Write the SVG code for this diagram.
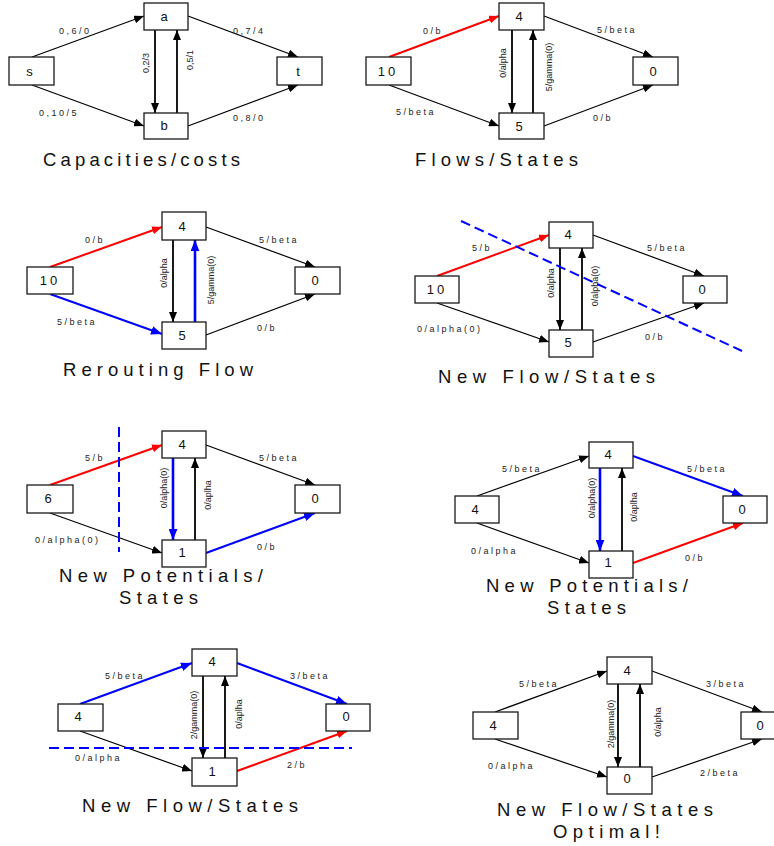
<svg xmlns="http://www.w3.org/2000/svg" width="774" height="846" viewBox="0 0 774 846">
  <style>
    .box { fill: #fff; stroke: #1a1a1a; stroke-width: 1.3; }
    .nt { font-family: "Liberation Sans", Arial, sans-serif; font-size: 13px; fill: #111; text-anchor: middle; }
    .nt2 { letter-spacing: 3px; }
    .el { font-family: "Liberation Sans", Arial, sans-serif; font-size: 9px; fill: #222; letter-spacing: 2.5px; }
    .vl { font-family: "Liberation Sans", Arial, sans-serif; font-size: 9px; fill: #222; text-anchor: middle; }
    .ti { font-family: "Liberation Sans", Arial, sans-serif; font-size: 18.5px; fill: #111; }
    .e { fill: none; stroke: #000; stroke-width: 1.2; marker-end: url(#ah-k); }
    .v { fill: none; stroke: #000; stroke-width: 1.8; marker-end: url(#ah-k); }
    .r { fill: none; stroke: #f00; stroke-width: 2; marker-end: url(#ah-r); }
    .b { fill: none; stroke: #00f; stroke-width: 2; marker-end: url(#ah-b); }
    .vb { fill: none; stroke: #00f; stroke-width: 2.6; marker-end: url(#ah-b); }
    .cut { fill: none; stroke: #00f; stroke-width: 2; stroke-dasharray: 10 5; }
  </style>
  <defs>
    <marker id="ah-k" viewBox="0 0 10 8" refX="10" refY="4" markerWidth="10" markerHeight="8" markerUnits="userSpaceOnUse" orient="auto">
      <path d="M0,0 L10,4 L0,8 z" fill="#000"/>
    </marker>
    <marker id="ah-r" viewBox="0 0 10 8" refX="10" refY="4" markerWidth="10" markerHeight="8" markerUnits="userSpaceOnUse" orient="auto">
      <path d="M0,0 L10,4 L0,8 z" fill="#f00"/>
    </marker>
    <marker id="ah-b" viewBox="0 0 10 8" refX="10" refY="4" markerWidth="11" markerHeight="9" markerUnits="userSpaceOnUse" orient="auto">
      <path d="M0,0 L10,4 L0,8 z" fill="#00f"/>
    </marker>
  </defs>
  <rect width="774" height="846" fill="#fff"/>

  <!-- 1: capacities / costs -->
  <g id="panel1">
    <g id="p1-connectors">
      <path class="e" d="M32,57 L144,16"/>
      <path class="e" d="M32,85 L144,126"/>
      <path class="e" d="M188,16 L298,57"/>
      <path class="e" d="M188,126 L298,85"/>
      <path class="v" d="M155,30 L155,113"/>
      <path class="v" d="M177,113 L177,30"/>
      <text class="el" x="59" y="34">0,6/0</text>
      <text class="el" x="233" y="34">0,7/4</text>
      <text class="el" x="39" y="116">0,10/5</text>
      <text class="el" x="233" y="121">0,8/0</text>
      <text class="vl" transform="translate(148.5,63) rotate(-90)">0,2/3</text>
      <text class="vl" transform="translate(192.5,60) rotate(-90)">0,5/1</text>
    </g>
    <g id="p1-s"><rect class="box" x="9" y="57" width="45" height="28"/><text class="nt" x="29.5" y="76">s</text></g>
    <g id="p1-a"><rect class="box" x="144" y="3" width="44" height="27"/><text class="nt" x="164" y="21">a</text></g>
    <g id="p1-b"><rect class="box" x="144" y="113" width="44" height="26"/><text class="nt" x="164" y="130">b</text></g>
    <g id="p1-t"><rect class="box" x="277" y="57" width="45" height="28"/><text class="nt" x="298" y="76">t</text></g>
    <text class="ti" x="43" y="166" textLength="197" lengthAdjust="spacing">Capacities/costs</text>
  </g>

  <!-- 2: flows / states -->
  <g id="panel2">
    <g id="p2-connectors">
      <path class="r" d="M389,57 L499,16"/>
      <path class="e" d="M389,85 L499,126"/>
      <path class="e" d="M544,16 L653,57"/>
      <path class="e" d="M544,126 L653,85"/>
      <path class="v" d="M512,30 L512,113"/>
      <path class="v" d="M533,113 L533,30"/>
      <text class="el" x="423" y="34">0/b</text>
      <text class="el" x="597" y="33">5/beta</text>
      <text class="el" x="396" y="115">5/beta</text>
      <text class="el" x="593" y="121">0/b</text>
      <text class="vl" transform="translate(505.5,63) rotate(-90)">0/alpha</text>
      <text class="vl" transform="translate(551.5,67) rotate(-90)">5/gamma(0)</text>
    </g>
    <g id="p2-src"><rect class="box" x="366" y="57" width="45" height="28"/><text class="nt nt2" x="388" y="76">10</text></g>
    <g id="p2-top"><rect class="box" x="499" y="3" width="45" height="27"/><text class="nt" x="519" y="21">4</text></g>
    <g id="p2-bot"><rect class="box" x="499" y="113" width="45" height="26"/><text class="nt" x="519" y="131">5</text></g>
    <g id="p2-snk"><rect class="box" x="633" y="57" width="45" height="28"/><text class="nt" x="653" y="76">0</text></g>
    <text class="ti" x="415" y="166" textLength="163" lengthAdjust="spacing">Flows/States</text>
  </g>

  <!-- 3: rerouting flow -->
  <g id="panel3">
    <g id="p3-connectors">
      <path class="r" d="M50,267 L162,227"/>
      <path class="b" d="M50,294 L162,334"/>
      <path class="e" d="M206,227 L315,267"/>
      <path class="e" d="M206,335 L315,294"/>
      <path class="v" d="M173,240 L173,322"/>
      <path class="vb" d="M195,322 L195,240"/>
      <text class="el" x="85" y="243">0/b</text>
      <text class="el" x="259" y="243">5/beta</text>
      <text class="el" x="57" y="325">5/beta</text>
      <text class="el" x="257" y="331">0/b</text>
      <text class="vl" transform="translate(166.5,273) rotate(-90)">0/alpha</text>
      <text class="vl" transform="translate(213.5,280) rotate(-90)">5/gamma(0)</text>
    </g>
    <g id="p3-src"><rect class="box" x="27" y="267" width="46" height="27"/><text class="nt nt2" x="50" y="285">10</text></g>
    <g id="p3-top"><rect class="box" x="162" y="212" width="44" height="28"/><text class="nt" x="182" y="231">4</text></g>
    <g id="p3-bot"><rect class="box" x="162" y="322" width="44" height="27"/><text class="nt" x="182" y="340">5</text></g>
    <g id="p3-snk"><rect class="box" x="295" y="267" width="45" height="27"/><text class="nt" x="315" y="285">0</text></g>
    <text class="ti" x="63" y="376" textLength="190" lengthAdjust="spacing">Rerouting Flow</text>
  </g>

  <!-- 4: new flow / states -->
  <g id="panel4">
    <g id="p4-connectors">
      <path class="r" d="M437,276 L549,235"/>
      <path class="e" d="M437,303 L549,342"/>
      <path class="e" d="M593,235 L704,276"/>
      <path class="e" d="M593,342 L704,303"/>
      <path class="v" d="M560,248 L560,330"/>
      <path class="v" d="M582,330 L582,248"/>
      <path class="cut" d="M461,221 L742,351"/>
      <text class="el" x="472" y="251">5/b</text>
      <text class="el" x="647" y="251">5/beta</text>
      <text class="el" x="417" y="332">0/alpha(0)</text>
      <text class="el" x="645" y="340">0/b</text>
      <text class="vl" transform="translate(553.5,283) rotate(-90)">0/alpha</text>
      <text class="vl" transform="translate(597.5,286) rotate(-90)">0/alpha(0)</text>
    </g>
    <g id="p4-src"><rect class="box" x="415" y="276" width="44" height="27"/><text class="nt nt2" x="437" y="294">10</text></g>
    <g id="p4-top"><rect class="box" x="549" y="222" width="44" height="26"/><text class="nt" x="568" y="239">4</text></g>
    <g id="p4-bot"><rect class="box" x="549" y="330" width="44" height="27"/><text class="nt" x="568" y="347">5</text></g>
    <g id="p4-snk"><rect class="box" x="683" y="276" width="44" height="27"/><text class="nt" x="702" y="294">0</text></g>
    <text class="ti" x="438" y="383" textLength="217" lengthAdjust="spacing">New Flow/States</text>
  </g>

  <!-- 5: new potentials / states -->
  <g id="panel5">
    <g id="p5-connectors">
      <path class="r" d="M50,485 L162,445"/>
      <path class="e" d="M50,513 L162,553"/>
      <path class="e" d="M206,445 L315,485"/>
      <path class="b" d="M206,553 L315,513"/>
      <path class="vb" d="M173,458 L173,540"/>
      <path class="v" d="M195,540 L195,458"/>
      <path class="cut" d="M119,427 L119,552"/>
      <text class="el" x="85" y="461">5/b</text>
      <text class="el" x="259" y="461">5/beta</text>
      <text class="el" x="35" y="543">0/alpha(0)</text>
      <text class="el" x="257" y="550">0/b</text>
      <text class="vl" transform="translate(166.5,488) rotate(-90)">0/alpha(0)</text>
      <text class="vl" transform="translate(210.5,495) rotate(-90)">0/aplha</text>
    </g>
    <g id="p5-src"><rect class="box" x="27" y="485" width="46" height="28"/><text class="nt" x="48" y="503">6</text></g>
    <g id="p5-top"><rect class="box" x="162" y="431" width="44" height="27"/><text class="nt" x="182" y="449">4</text></g>
    <g id="p5-bot"><rect class="box" x="162" y="540" width="44" height="27"/><text class="nt" x="182" y="557">1</text></g>
    <g id="p5-snk"><rect class="box" x="295" y="485" width="45" height="28"/><text class="nt" x="315" y="503">0</text></g>
    <text class="ti" x="59" y="582" textLength="204" lengthAdjust="spacing">New Potentials/</text>
    <text class="ti" x="119" y="604" textLength="79" lengthAdjust="spacing">States</text>
  </g>

  <!-- 6: new potentials / states -->
  <g id="panel6">
    <g id="p6-connectors">
      <path class="e" d="M477,496 L589,456"/>
      <path class="e" d="M477,523 L589,563"/>
      <path class="b" d="M633,456 L743,496"/>
      <path class="r" d="M633,563 L743,523"/>
      <path class="vb" d="M600,468 L600,551"/>
      <path class="v" d="M622,551 L622,468"/>
      <text class="el" x="502" y="472">5/beta</text>
      <text class="el" x="687" y="472">5/beta</text>
      <text class="el" x="471" y="554">0/alpha</text>
      <text class="el" x="685" y="561">0/b</text>
      <text class="vl" transform="translate(594.5,498) rotate(-90)">0/alpha(0)</text>
      <text class="vl" transform="translate(636.5,507) rotate(-90)">0/aplha</text>
    </g>
    <g id="p6-src"><rect class="box" x="455" y="496" width="44" height="27"/><text class="nt" x="475" y="514">4</text></g>
    <g id="p6-top"><rect class="box" x="589" y="442" width="44" height="26"/><text class="nt" x="608" y="459">4</text></g>
    <g id="p6-bot"><rect class="box" x="589" y="551" width="44" height="27"/><text class="nt" x="608" y="567">1</text></g>
    <g id="p6-snk"><rect class="box" x="723" y="496" width="44" height="27"/><text class="nt" x="742" y="514">0</text></g>
    <text class="ti" x="486" y="592" textLength="202" lengthAdjust="spacing">New Potentials/</text>
    <text class="ti" x="547" y="614" textLength="79" lengthAdjust="spacing">States</text>
  </g>

  <!-- 7: new flow / states -->
  <g id="panel7">
    <g id="p7-connectors">
      <path class="b" d="M80,704 L192,663"/>
      <path class="e" d="M80,731 L192,771"/>
      <path class="b" d="M237,663 L347,704"/>
      <path class="r" d="M237,771 L347,731"/>
      <path class="v" d="M203,676 L203,758"/>
      <path class="v" d="M225,758 L225,676"/>
      <path class="cut" d="M49,748 L352,748"/>
      <text class="el" x="105" y="679">5/beta</text>
      <text class="el" x="290" y="679">3/beta</text>
      <text class="el" x="75" y="761">0/alpha</text>
      <text class="el" x="287" y="768">2/b</text>
      <text class="vl" transform="translate(196.5,715) rotate(-90)">2/gamma(0)</text>
      <text class="vl" transform="translate(241.5,714) rotate(-90)">0/aplha</text>
    </g>
    <g id="p7-src"><rect class="box" x="58" y="704" width="45" height="27"/><text class="nt" x="78" y="721">4</text></g>
    <g id="p7-top"><rect class="box" x="192" y="649" width="45" height="27"/><text class="nt" x="212" y="666">4</text></g>
    <g id="p7-bot"><rect class="box" x="192" y="758" width="45" height="28"/><text class="nt" x="212" y="776">1</text></g>
    <g id="p7-snk"><rect class="box" x="326" y="704" width="44" height="27"/><text class="nt" x="346" y="721">0</text></g>
    <text class="ti" x="82" y="812" textLength="216" lengthAdjust="spacing">New Flow/States</text>
  </g>

  <!-- 8: optimal flow / states -->
  <g id="panel8">
    <g id="p8-connectors">
      <path class="e" d="M495,712 L607,671"/>
      <path class="e" d="M495,739 L607,777"/>
      <path class="e" d="M652,671 L762,712"/>
      <path class="e" d="M652,777 L762,739"/>
      <path class="v" d="M618,684 L618,767"/>
      <path class="v" d="M640,767 L640,684"/>
      <text class="el" x="519" y="687">5/beta</text>
      <text class="el" x="706" y="687">3/beta</text>
      <text class="el" x="488" y="769">0/alpha</text>
      <text class="el" x="700" y="776">2/beta</text>
      <text class="vl" transform="translate(613.5,724) rotate(-90)">2/gamma(0)</text>
      <text class="vl" transform="translate(660.5,722) rotate(-90)">0/alpha</text>
    </g>
    <g id="p8-src"><rect class="box" x="473" y="712" width="45" height="27"/><text class="nt" x="493" y="730">4</text></g>
    <g id="p8-top"><rect class="box" x="607" y="657" width="45" height="27"/><text class="nt" x="627" y="675">4</text></g>
    <g id="p8-bot"><rect class="box" x="607" y="767" width="45" height="27"/><text class="nt" x="627" y="783">0</text></g>
    <g id="p8-snk"><rect class="box" x="741" y="712" width="45" height="27"/><text class="nt" x="760" y="730">0</text></g>
    <text class="ti" x="497" y="816" textLength="216" lengthAdjust="spacing">New Flow/States</text>
    <text class="ti" x="553" y="838" textLength="107" lengthAdjust="spacing">Optimal!</text>
  </g>
</svg>
